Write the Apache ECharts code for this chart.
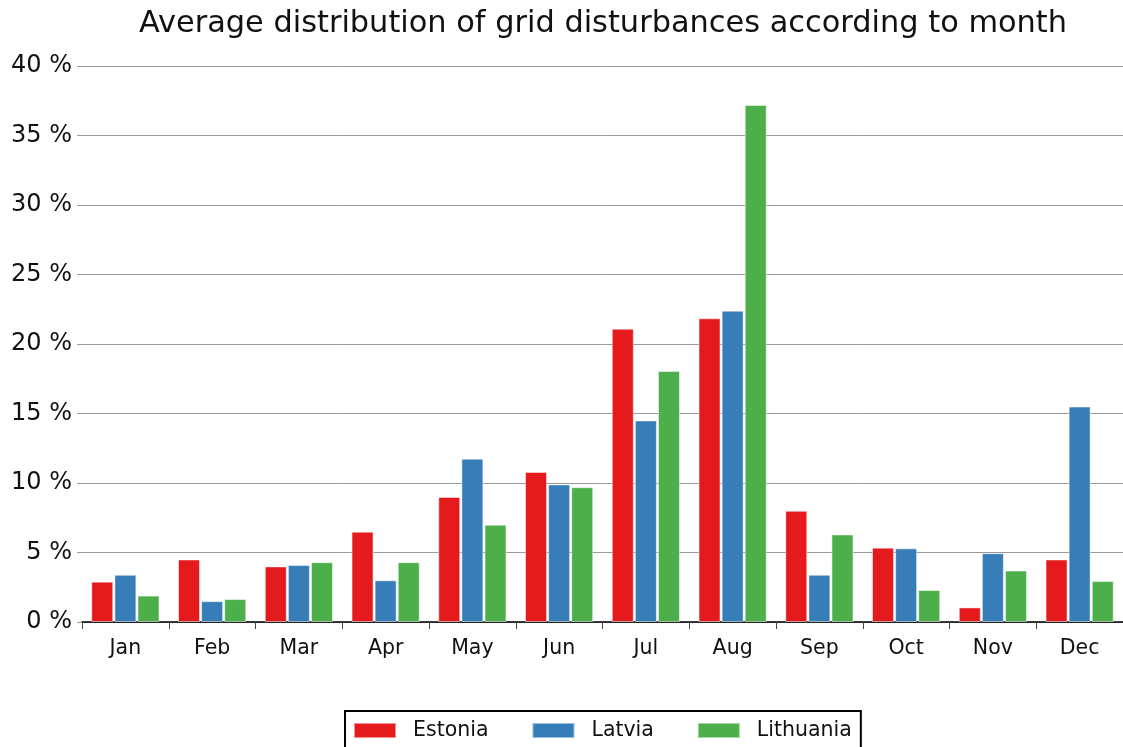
<!DOCTYPE html>
<html>
<head>
<meta charset="utf-8">
<script src="https://cdn.jsdelivr.net/npm/echarts@6/dist/echarts.min.js"></script>
<style>
  html, body { margin: 0; padding: 0; background: #fff; }
  #chart { width: 1123px; height: 747px; }
</style>
</head>
<body>
<div id="chart"></div>
<script>
// months on the x axis
var months = ['Jan', 'Feb', 'Mar', 'Apr', 'May', 'Jun', 'Jul', 'Aug', 'Sep', 'Oct', 'Nov', 'Dec'];
// share of disturbances per month, in %
var estonia   = [2.9, 4.5, 4.0, 6.5, 9.0, 10.8, 21.1, 21.85, 8.0, 5.35, 1.05, 4.5];
var latvia    = [3.4, 1.5, 4.1, 3.0, 11.75, 9.9, 14.5, 22.4, 3.4, 5.3, 4.95, 15.5];
var lithuania = [1.9, 1.65, 4.3, 4.3, 7.0, 9.7, 18.05, 37.2, 6.3, 2.3, 3.7, 2.95];

var font = 'DejaVu Sans';
var chart = echarts.init(document.getElementById('chart'));

function bar(name, data, color) {
    return {
        name: name,
        type: 'bar',
        data: data,
        barWidth: 22,
        barGap: '5%',
        itemStyle: { color: color, borderColor: 'rgba(255,255,255,0.5)', borderWidth: 1 },
        animation: false
    };
}

chart.setOption({
    backgroundColor: '#fff',
    textStyle: { fontFamily: font },
    title: {
        text: 'Average distribution of grid disturbances according to month',
        left: 598, textAlign: 'center', top: 4,
        textStyle: { fontFamily: font, fontSize: 30.4, fontWeight: 'normal', color: '#111' }
    },
    grid: { left: 82, right: 0, top: 66, bottom: 125 },
    legend: {
        left: 345, top: 711,
        padding: [9, 9, 12, 8],
        borderColor: '#000', borderWidth: 2,
        itemWidth: 42, itemHeight: 15, itemGap: 43,
        icon: 'rect',
        textStyle: { fontFamily: font, fontSize: 20.5, color: '#111', padding: [0, 0, 0, 12] },
        data: ['Estonia', 'Latvia', 'Lithuania']
    },
    xAxis: {
        type: 'category',
        data: months,
        axisLine: { lineStyle: { color: '#000', width: 1.5 } },
        axisTick: { show: true, length: 7, lineStyle: { color: '#444' } },
        axisLabel: { fontFamily: font, fontSize: 20.5, color: '#111', margin: 16 }
    },
    yAxis: {
        type: 'value',
        min: 0, max: 40, interval: 5,
        axisLine: { show: false },
        axisTick: { show: true, length: 5, lineStyle: { color: '#999' } },
        axisLabel: { fontFamily: font, fontSize: 24, color: '#111', margin: 10,
                     formatter: function (v) { return v + ' %'; } },
        splitLine: { lineStyle: { color: '#999', width: 1 } }
    },
    series: [
        bar('Estonia', estonia, '#e41a1c'),
        bar('Latvia', latvia, '#377eb8'),
        bar('Lithuania', lithuania, '#4daf4a')
    ]
});
</script>
</body>
</html>
